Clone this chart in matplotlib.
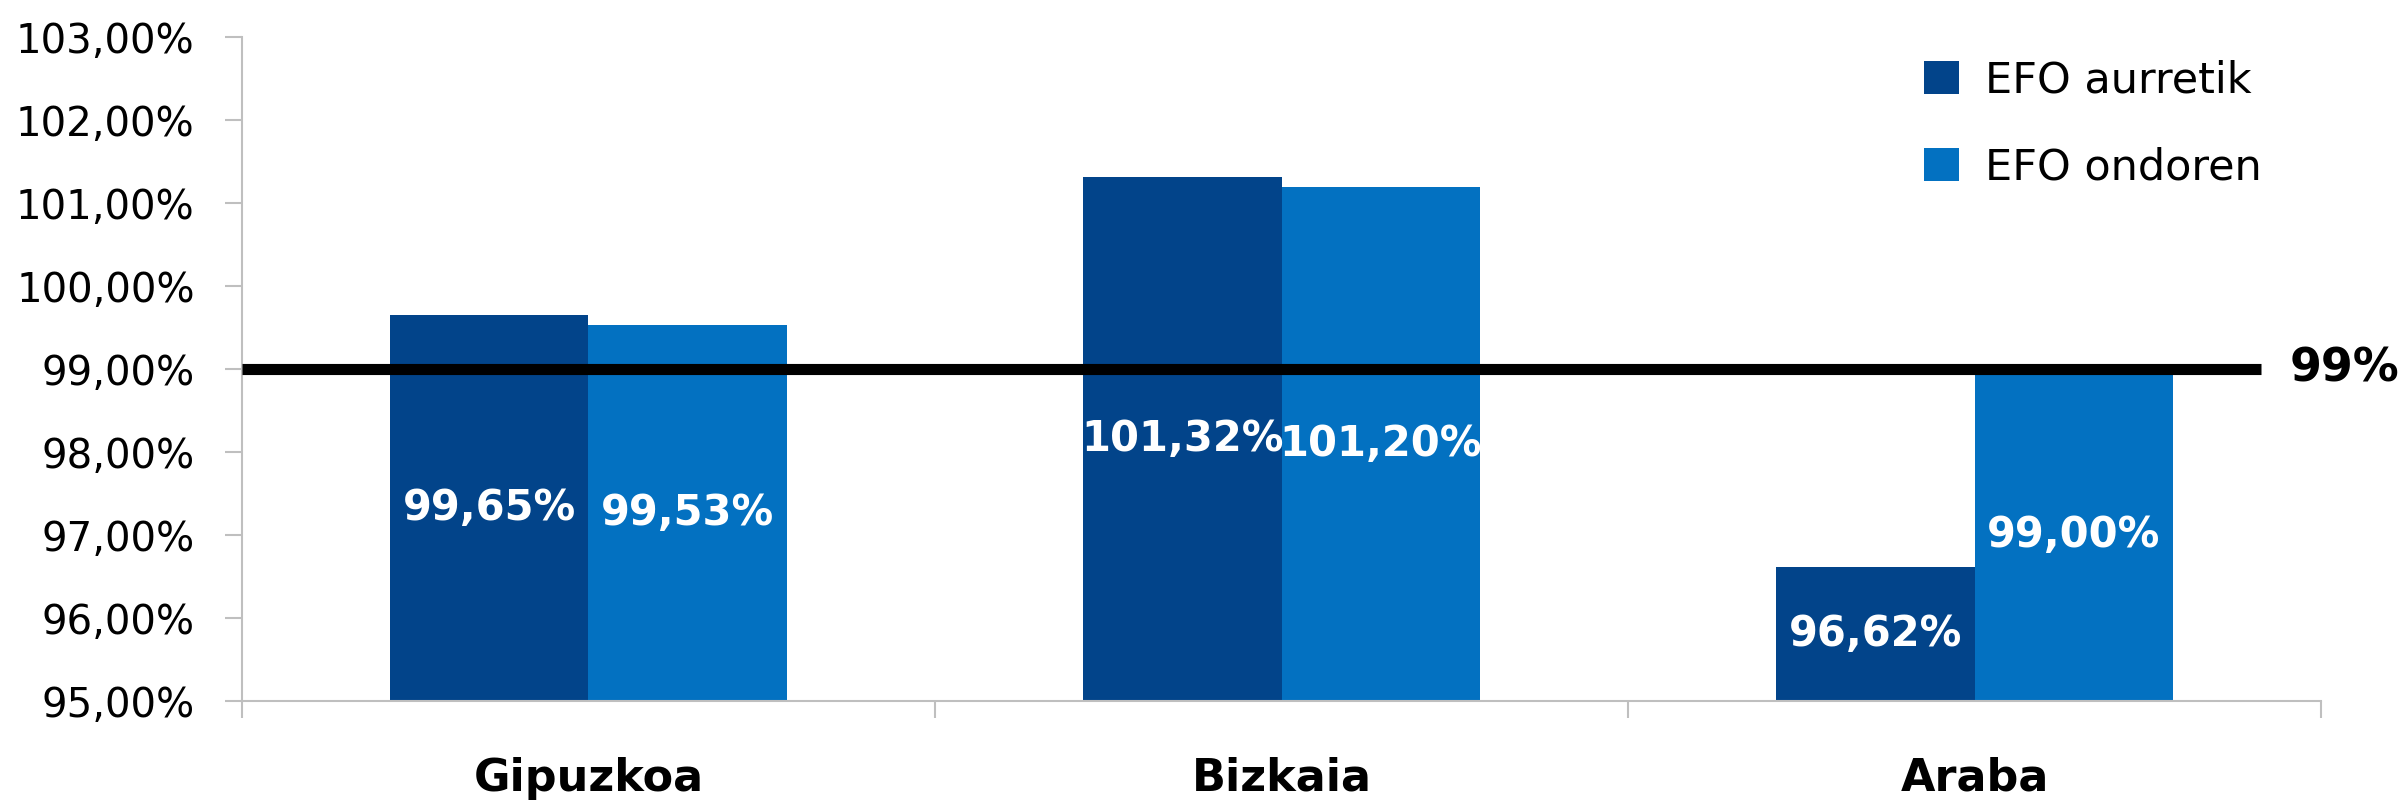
import matplotlib.pyplot as plt
import numpy as np
from matplotlib.ticker import FuncFormatter

provinces = ["Gipuzkoa", "Bizkaia", "Araba"]
series_names = ["EFO aurretik", "EFO ondoren"]
efo_aurretik = [99.65, 101.32, 96.62]
efo_ondoren = [99.53, 101.20, 99.00]
target = 99.0
target_label = "99%"
colors = ["#02448A", "#0371C1"]

plt.rcParams['font.family'] = ['DejaVu Sans']

fig = plt.figure(figsize=(24.05, 8.08), dpi=100)
ax = fig.add_axes([0.1006, 0.1324, 0.8645, 0.8216])

x = np.arange(len(provinces))
w = 0.286
b1 = ax.bar(x - w / 2, [v - 95 for v in efo_aurretik], w, bottom=95, color=colors[0], label=series_names[0])
b2 = ax.bar(x + w / 2, [v - 95 for v in efo_ondoren], w, bottom=95, color=colors[1], label=series_names[1])

def fmt(v):
    return f"{v:.2f}%".replace(".", ",")

for bars, vals in [(b1, efo_aurretik), (b2, efo_ondoren)]:
    ax.bar_label(bars, labels=[fmt(v) for v in vals], label_type='center',
                 color='white', fontsize=30, fontweight='heavy')

# target line
ax.plot([-0.5, 2.413], [target, target], color='black', lw=8, solid_capstyle='butt', clip_on=False, zorder=5)
ax.text(2.455, target, target_label, fontsize=33, fontweight='heavy',
        va='center', ha='left', clip_on=False)

ax.set_xlim(-0.5, 2.5)
ax.set_ylim(95, 103)
ax.set_yticks(np.arange(95, 103.5, 1))
ax.yaxis.set_major_formatter(FuncFormatter(lambda v, p: fmt(v)))
ax.tick_params(axis='y', labelsize=29, length=12, color='#BFBFBF', width=1.5, pad=22)

ax.set_xticks([-0.5, 0.5, 1.5, 2.5])
ax.set_xticklabels([])
ax.set_xticks(x, minor=True)
ax.set_xticklabels(provinces, minor=True, fontsize=32, fontweight='heavy')
ax.tick_params(axis='x', which='major', length=12, color='#BFBFBF', width=1.5)
ax.tick_params(axis='x', which='minor', length=0, pad=40)

for s in ['top', 'right']:
    ax.spines[s].set_visible(False)
for s in ['left', 'bottom']:
    ax.spines[s].set_color('#BFBFBF')
    ax.spines[s].set_linewidth(1.5)

leg = ax.legend(loc='upper right', bbox_to_anchor=(0.99, 1.025), frameon=False, fontsize=31,
                handlelength=0.8, handleheight=0.8, handletextpad=0.6, labelspacing=1.05)

fig.savefig("out.png", dpi=100)
